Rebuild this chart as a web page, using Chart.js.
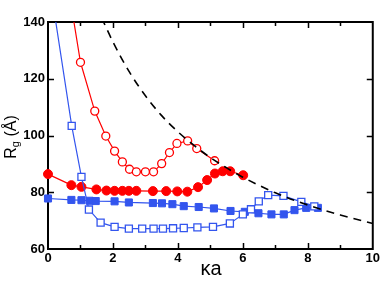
<!DOCTYPE html>
<html lang="en">
<head>
    <meta charset="UTF-8">
    <title>Rg vs ka</title>
    <script src="https://cdn.jsdelivr.net/npm/chart.js@4.4.0/dist/chart.umd.min.js"></script>
    <style>
        body { margin: 0; background: white; }
        #wrap { width: 382px; height: 295px; }
    </style>
</head>
<body>
<div id="wrap"><canvas id="chart" width="382" height="295"></canvas></div>
<script>
    // red, open circles
    const redOpenX = [0.6, 1.0, 1.44, 1.78, 2.05, 2.29, 2.51, 2.72, 3.0, 3.25, 3.5, 3.74, 3.97, 4.3, 4.58, 5.13];
    const redOpenY = [154, 125.8, 108.6, 99.8, 94.5, 90.7, 88.1, 87.2, 87.2, 87.2, 90.1, 94.0, 97.2, 98.1, 95.4, 91.1];
    // red, filled circles
    const redFillX = [0, 0.72, 1.03, 1.49, 1.8, 2.05, 2.29, 2.49, 2.72, 3.23, 3.64, 3.98, 4.29, 4.62, 4.9, 5.14, 5.38, 5.61, 6.01];
    const redFillY = [86.4, 82.5, 81.9, 81.0, 80.6, 80.5, 80.5, 80.5, 80.5, 80.4, 80.4, 80.3, 80.2, 81.8, 84.3, 86.6, 87.4, 87.4, 86.0];
    // blue, open squares
    const blueOpenX = [0.2, 0.73, 1.03, 1.26, 1.62, 2.05, 2.49, 2.9, 3.25, 3.54, 3.85, 4.18, 4.6, 5.08, 5.6, 6.0, 6.25, 6.49, 6.78, 7.25, 7.8, 8.2];
    const blueOpenY = [143, 103.4, 85.4, 73.9, 69.3, 67.8, 67.2, 67.2, 67.2, 67.2, 67.3, 67.4, 67.6, 67.8, 69.0, 72.2, 74.0, 76.8, 79.0, 78.7, 76.6, 75.0];
    // blue, filled squares
    const blueFillX = [0, 0.72, 1.03, 1.28, 1.47, 2.05, 2.49, 3.23, 3.51, 3.83, 4.18, 4.64, 5.11, 5.62, 6.06, 6.48, 6.88, 7.26, 7.59, 7.95, 8.31];
    const blueFillY = [77.8, 77.3, 77.2, 77.0, 76.9, 76.8, 76.4, 76.2, 76.1, 75.8, 75.1, 74.8, 74.3, 73.4, 73.1, 72.6, 72.2, 72.2, 73.7, 74.5, 74.5];
    // dashed black curve
    const dashX = [1.65, 2.0, 2.5, 3.0, 3.5, 4.0, 4.5, 5.0, 5.5, 6.0, 7.0, 8.0, 9.0, 10.0];
    const dashY = [141.5, 133, 122.5, 114, 107, 101.3, 96.5, 92.2, 88.6, 85.3, 79.8, 75.5, 72.0, 69.0];

    const xTicks = [0, 2, 4, 6, 8, 10];
    const yTicks = [60, 80, 100, 120, 140];

    const RED = '#ff0000';
    const BLUE = '#3355ee';

    function pts(xs, ys) {
        return xs.map((x, i) => ({ x: x, y: ys[i] }));
    }

    // frame, inward ticks and axis titles
    const framePlugin = {
        id: 'frame',
        beforeDatasetsDraw(chart) {
            const ctx = chart.ctx;
            const a = chart.chartArea;
            const xs = chart.scales.x, ys = chart.scales.y;
            ctx.save();
            ctx.strokeStyle = '#000';
            ctx.lineWidth = 1.5;
            for (let v = 1; v < 10; v++) {
                const px = Math.round(xs.getPixelForValue(v)) + 0.5;
                const len = v % 2 === 0 ? 6 : 4;
                ctx.beginPath();
                ctx.moveTo(px, a.bottom); ctx.lineTo(px, a.bottom - len);
                ctx.moveTo(px, a.top); ctx.lineTo(px, a.top + len);
                ctx.stroke();
            }
            yTicks.slice(1, -1).forEach(v => {
                const py = Math.round(ys.getPixelForValue(v)) + 0.5;
                ctx.beginPath();
                ctx.moveTo(a.left, py); ctx.lineTo(a.left + 6, py);
                ctx.moveTo(a.right, py); ctx.lineTo(a.right - 6, py);
                ctx.stroke();
            });
            ctx.lineWidth = 2;
            ctx.strokeRect(a.left, a.top, a.right - a.left, a.bottom - a.top);
            ctx.restore();
        },
        afterDraw(chart) {
            const ctx = chart.ctx;
            ctx.save();
            ctx.fillStyle = '#000';
            // x title
            ctx.font = '20px "Liberation Sans", Arial, sans-serif';
            ctx.textAlign = 'center';
            ctx.textBaseline = 'alphabetic';
            ctx.fillText('κa', 211, 275);
            // y title with subscript
            ctx.translate(16, 137);
            ctx.rotate(-Math.PI / 2);
            ctx.textAlign = 'left';
            const big = '16px "Liberation Sans", Arial, sans-serif';
            const small = '11px "Liberation Sans", Arial, sans-serif';
            ctx.font = big;
            const wR = ctx.measureText('R').width;
            ctx.font = small;
            const wg = ctx.measureText('g').width;
            ctx.font = big;
            const wRest = ctx.measureText(' (Å)').width;
            let x0 = -(wR + wg + wRest) / 2;
            ctx.fillText('R', x0, 0);
            ctx.font = small;
            ctx.fillText('g', x0 + wR, 3);
            ctx.font = big;
            ctx.fillText(' (Å)', x0 + wR + wg, 0);
            ctx.restore();
        }
    };

    const chart = new Chart(document.getElementById('chart'), {
        type: 'scatter',
        data: {
            datasets: [
                {
                    data: pts(dashX, dashY),
                    showLine: true,
                    borderColor: '#000',
                    borderWidth: 1.6,
                    borderDash: [8, 6],
                    pointRadius: 0,
                    tension: 0.4,
                    cubicInterpolationMode: 'monotone',
                    clip: { left: 0, top: 0, right: 0, bottom: 0 }
                },
                {
                    data: pts(blueOpenX, blueOpenY),
                    showLine: true,
                    borderColor: BLUE,
                    borderWidth: 1.2,
                    pointStyle: 'rect',
                    pointRadius: 5,
                    pointBorderWidth: 1.3,
                    pointBackgroundColor: '#fff',
                    pointBorderColor: BLUE,
                    clip: { left: 10, top: 0, right: 10, bottom: 10 }
                },
                {
                    data: pts(blueFillX, blueFillY),
                    showLine: true,
                    borderColor: BLUE,
                    borderWidth: 1.2,
                    pointStyle: 'rect',
                    pointRadius: 5,
                    pointBorderWidth: 1,
                    pointBackgroundColor: BLUE,
                    pointBorderColor: BLUE,
                    clip: false
                },
                {
                    data: pts(redOpenX, redOpenY),
                    showLine: true,
                    borderColor: RED,
                    borderWidth: 1.2,
                    pointRadius: 4,
                    pointBorderWidth: 1.3,
                    pointBackgroundColor: '#fff',
                    pointBorderColor: RED,
                    clip: { left: 10, top: 0, right: 10, bottom: 10 }
                },
                {
                    data: pts(redFillX, redFillY),
                    showLine: true,
                    borderColor: RED,
                    borderWidth: 1.2,
                    pointRadius: 4.5,
                    pointBorderWidth: 1,
                    pointBackgroundColor: RED,
                    pointBorderColor: RED,
                    clip: false
                }
            ]
        },
        options: {
            responsive: false,
            animation: false,
            devicePixelRatio: 1,
            layout: { padding: { top: 22, right: 9, left: 0, bottom: 0 } },
            plugins: {
                legend: { display: false },
                tooltip: { enabled: false }
            },
            scales: {
                x: {
                    type: 'linear',
                    min: 0, max: 10,
                    afterFit(scale) { scale.height = 46; },
                    afterBuildTicks(scale) { scale.ticks = xTicks.map(v => ({ value: v })); },
                    grid: { display: false, drawTicks: false },
                    border: { display: false },
                    ticks: {
                        color: '#000',
                        padding: 2,
                        maxRotation: 0,
                        font: { family: '"Liberation Sans", Arial, sans-serif', size: 13, weight: 'bold' }
                    }
                },
                y: {
                    type: 'linear',
                    min: 60, max: 140,
                    afterFit(scale) { scale.width = 48; },
                    afterBuildTicks(scale) { scale.ticks = yTicks.map(v => ({ value: v })); },
                    grid: { display: false, drawTicks: false },
                    border: { display: false },
                    ticks: {
                        color: '#000',
                        padding: 3,
                        font: { family: '"Liberation Sans", Arial, sans-serif', size: 13, weight: 'bold' }
                    }
                }
            }
        },
        plugins: [framePlugin]
    });
</script>
</body>
</html>
